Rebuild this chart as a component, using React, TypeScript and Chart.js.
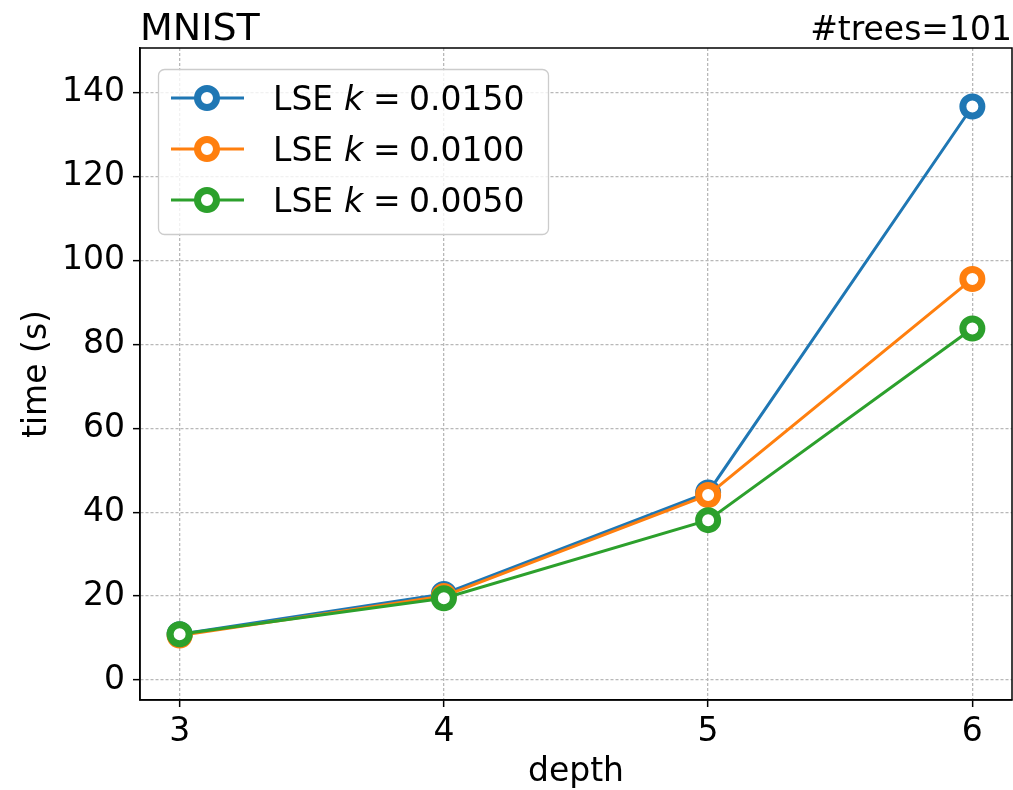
import React, { useEffect, useRef } from "react";
import { Chart, registerables } from "chart.js";

Chart.register(...registerables);

// ---- data ----
const depths = [3, 4, 5, 6];
const kValues = ["0.0150", "0.0100", "0.0050"];
const timeK0150 = [10.9, 20.5, 44.7, 136.7];
const timeK0100 = [10.6, 20.0, 44.1, 95.6];
const timeK0050 = [10.9, 19.5, 38.1, 83.8];
const xTicks = [3, 4, 5, 6];
const yTicks = [0, 20, 40, 60, 80, 100, 120, 140];
const titleLeft = "MNIST";
const titleRight = "#trees=101";
const xTitle = "depth";
const yTitle = "time (s)";

const seriesValues = [timeK0150, timeK0100, timeK0050];
const colors = ["#1f77b4", "#ff7f0e", "#2ca02c"];
const FAMILY = "'DejaVu Sans', 'Liberation Sans', sans-serif";

const decorPlugin = {
  id: "decor",
  afterDraw(chart: any) {
    const ctx = chart.ctx as CanvasRenderingContext2D;
    const a = chart.chartArea;
    ctx.save();
    // spines
    ctx.strokeStyle = "#000";
    ctx.lineWidth = 1.5;
    ctx.strokeRect(a.left, a.top, a.right - a.left, a.bottom - a.top);

    // titles
    ctx.fillStyle = "#000";
    ctx.textBaseline = "alphabetic";
    ctx.font = `38px ${FAMILY}`;
    ctx.textAlign = "left";
    ctx.fillText(titleLeft, a.left, 40);
    ctx.font = `33px ${FAMILY}`;
    ctx.textAlign = "right";
    ctx.fillText(titleRight, a.right, 40);

    // legend
    const bx = 158.5, by = 69.5, bw = 390, bh = 165, r = 6;
    ctx.beginPath();
    ctx.moveTo(bx + r, by);
    ctx.lineTo(bx + bw - r, by);
    ctx.arcTo(bx + bw, by, bx + bw, by + r, r);
    ctx.lineTo(bx + bw, by + bh - r);
    ctx.arcTo(bx + bw, by + bh, bx + bw - r, by + bh, r);
    ctx.lineTo(bx + r, by + bh);
    ctx.arcTo(bx, by + bh, bx, by + bh - r, r);
    ctx.lineTo(bx, by + r);
    ctx.arcTo(bx, by, bx + r, by, r);
    ctx.closePath();
    ctx.fillStyle = "rgba(255,255,255,0.8)";
    ctx.fill();
    ctx.strokeStyle = "#cccccc";
    ctx.lineWidth = 1.3;
    ctx.stroke();

    const rows = [98, 149, 200];
    kValues.forEach((kv, i) => {
      const y = rows[i];
      const c = colors[i];
      ctx.strokeStyle = c;
      ctx.lineWidth = 3;
      ctx.beginPath();
      ctx.moveTo(171, y);
      ctx.lineTo(244, y);
      ctx.stroke();
      ctx.beginPath();
      ctx.arc(207, y, 9.5, 0, Math.PI * 2);
      ctx.fillStyle = "#fff";
      ctx.fill();
      ctx.lineWidth = 7;
      ctx.stroke();

      ctx.fillStyle = "#000";
      ctx.textAlign = "left";
      ctx.textBaseline = "alphabetic";
      const bl = y + 12;
      ctx.font = `33px ${FAMILY}`;
      ctx.fillText("LSE", 273, bl);
      ctx.font = `italic 33px ${FAMILY}`;
      ctx.fillText("k", 344, bl);
      ctx.font = `33px ${FAMILY}`;
      ctx.fillText("=", 373, bl);
      ctx.fillText(kv, 409, bl);
    });
    ctx.restore();
  },
};

export default function App() {
  const canvasRef = useRef<HTMLCanvasElement | null>(null);

  useEffect(() => {
    const canvas = canvasRef.current;
    if (!canvas) return;
    const tickFont = { family: FAMILY, size: 33 };
    const chart = new Chart(canvas, {
      type: "line",
      data: {
        datasets: seriesValues.map((vals, i) => ({
          label: `LSE k = ${kValues[i]}`,
          data: depths.map((d, j) => ({ x: d, y: vals[j] })),
          borderColor: colors[i],
          backgroundColor: "#ffffff",
          borderWidth: 3,
          pointRadius: 9.5,
          pointHoverRadius: 9.5,
          pointBorderWidth: 7,
          pointBackgroundColor: "#ffffff",
          pointBorderColor: colors[i],
          tension: 0,
          order: 3 - i,
        })),
      },
      options: {
        animation: false,
        responsive: false,
        maintainAspectRatio: false,
        events: [],
        layout: { autoPadding: false, padding: { top: 48, right: 1, left: 0, bottom: 0 } },
        plugins: {
          legend: { display: false },
          tooltip: { enabled: false },
          title: { display: false },
        },
        scales: {
          x: {
            type: "linear",
            min: 2.85,
            max: 6.15,
            afterBuildTicks: (s: any) => {
              s.ticks = xTicks.map((v) => ({ value: v }));
            },
            afterFit: (s: any) => {
              s.height = 90;
              s.paddingLeft = 0;
              s.paddingRight = 0;
            },
            ticks: {
              font: tickFont,
              color: "#000",
              padding: 6,
              autoSkip: false,
              maxRotation: 0,
              callback: (v: any) => String(v),
            },
            grid: {
              color: "#b8b8b8",
              lineWidth: 1.3,
              tickLength: 7,
              tickColor: "#000",
              tickWidth: 1.5,
              tickBorderDash: [],
            },
            border: { display: true, color: "#000", width: 1.5, dash: [3, 2] },
            title: {
              display: true,
              text: xTitle,
              font: tickFont,
              color: "#000",
              padding: { top: 0, bottom: -2 },
            },
          },
          y: {
            type: "linear",
            min: -4.77,
            max: 150.65,
            afterBuildTicks: (s: any) => {
              s.ticks = yTicks.map((v) => ({ value: v }));
            },
            afterFit: (s: any) => {
              s.width = 140;
              s.paddingTop = 0;
              s.paddingBottom = 0;
            },
            ticks: {
              font: tickFont,
              color: "#000",
              padding: 8,
              autoSkip: false,
              callback: (v: any) => String(v),
            },
            grid: {
              color: "#b8b8b8",
              lineWidth: 1.3,
              tickLength: 7,
              tickColor: "#000",
              tickWidth: 1.5,
              tickBorderDash: [],
            },
            border: { display: true, color: "#000", width: 1.5, dash: [3, 2] },
            title: {
              display: true,
              text: yTitle,
              font: tickFont,
              color: "#000",
              padding: { top: 18, bottom: 0 },
            },
          },
        },
      },
      plugins: [decorPlugin],
    } as any);
    return () => chart.destroy();
  }, []);

  return (
    <div style={{ position: "absolute", left: 0, top: 0, width: 1013, height: 790, background: "#fff" }}>
      <canvas ref={canvasRef} width={1013} height={790} style={{ display: "block", width: 1013, height: 790 }} />
    </div>
  );
}
